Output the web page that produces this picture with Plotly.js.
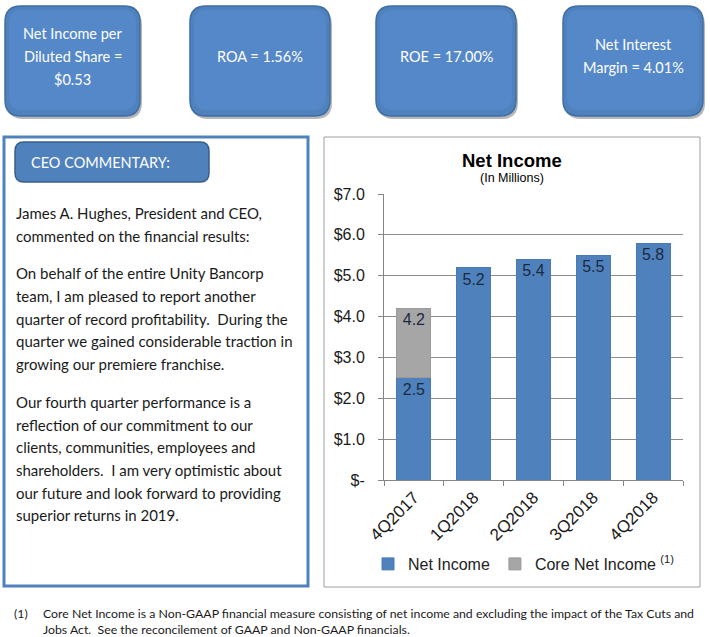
<!DOCTYPE html>
<html>
<head>
<meta charset="utf-8">
<script src="https://cdn.plot.ly/plotly-3.0.1.min.js"></script>
<style>
html,body{margin:0;padding:0;background:#fff;}
#chart{width:710px;height:637px;}
</style>
</head>
<body>
<div id="chart"></div>
<script>
// ---- Data ----
var categories = ['4Q2017', '1Q2018', '2Q2018', '3Q2018', '4Q2018'];
var netIncome = [2.5, 5.2, 5.4, 5.5, 5.8];
var coreNetIncome = [4.2, null, null, null, null];
var yTickVals = [0, 1, 2, 3, 4, 5, 6, 7];
var yTickText = ['$-', '$1.0', '$2.0', '$3.0', '$4.0', '$5.0', '$6.0', '$7.0'];

var kpiBoxes = [
  ['Net Income per', 'Diluted Share =', '$0.53'],
  ['ROA = 1.56%'],
  ['ROE = 17.00%'],
  ['Net Interest', 'Margin = 4.01%']
];
var commentaryLines = [
  'James A. Hughes, President and CEO,',
  'commented on the financial results:',
  '',
  'On behalf of the entire Unity Bancorp',
  'team, I am pleased to report another',
  'quarter of record profitability.  During the',
  'quarter we gained considerable traction in',
  'growing our premiere franchise.',
  '',
  'Our fourth quarter performance is a',
  'reflection of our commitment to our',
  'clients, communities, employees and',
  'shareholders.  I am very optimistic about',
  'our future and look forward to providing',
  'superior returns in 2019.'
];
var footnoteLines = [
  'Core Net Income is a Non-GAAP financial measure consisting of net income and excluding the impact of the Tax Cuts and',
  'Jobs Act.  See the reconcilement of GAAP and Non-GAAP financials.'
];

// ---- helpers (pixel -> paper) ----
var W = 710, H = 637;
function fx(x){ return x / W; }
function fy(y){ return 1 - y / H; }
function rr(x0, y0, x1, y1, r){
  return 'M' + fx(x0 + r) + ',' + fy(y0) +
    ' L' + fx(x1 - r) + ',' + fy(y0) +
    ' Q' + fx(x1) + ',' + fy(y0) + ' ' + fx(x1) + ',' + fy(y0 + r) +
    ' L' + fx(x1) + ',' + fy(y1 - r) +
    ' Q' + fx(x1) + ',' + fy(y1) + ' ' + fx(x1 - r) + ',' + fy(y1) +
    ' L' + fx(x0 + r) + ',' + fy(y1) +
    ' Q' + fx(x0) + ',' + fy(y1) + ' ' + fx(x0) + ',' + fy(y1 - r) +
    ' L' + fx(x0) + ',' + fy(y0 + r) +
    ' Q' + fx(x0) + ',' + fy(y0) + ' ' + fx(x0 + r) + ',' + fy(y0) + ' Z';
}

var calibriLike = 'Lato, "Open Sans", sans-serif';
var arialLike = '"Liberation Sans", Arial, sans-serif';

var shapes = [];
var annotations = [];

// KPI boxes
var boxX = [[5, 140], [190, 330], [376, 516], [563, 703]];
kpiBoxes.forEach(function(lines, i){
  var x0 = boxX[i][0], x1 = boxX[i][1], y0 = 6, y1 = 116;
  shapes.push({type: 'path', xref: 'paper', yref: 'paper', layer: 'above',
    path: rr(x0 + 2, y0 + 3, x1 + 2, y1 + 3, 16), fillcolor: 'rgba(0,0,0,0.28)', line: {width: 0}});
  shapes.push({type: 'path', xref: 'paper', yref: 'paper', layer: 'above',
    path: rr(x0, y0, x1, y1, 16), fillcolor: '#4F81BD', line: {color: '#3F6EA5', width: 1.5}});
  shapes.push({type: 'path', xref: 'paper', yref: 'paper', layer: 'above',
    path: rr(x0 + 4, y0 + 4, x1 - 4, y1 - 6, 13), fillcolor: '#5588C8', line: {width: 0}});
  var cx = (x0 + x1) / 2, cy = 56;
  var n = lines.length, sp = 23;
  lines.forEach(function(t, j){
    annotations.push({xref: 'paper', yref: 'paper', x: fx(cx), y: fy(cy + (j - (n - 1) / 2) * sp),
      text: t, showarrow: false, xanchor: 'center', yanchor: 'middle',
      font: {family: calibriLike, size: 14.5, color: '#ffffff'}});
  });
});

// Commentary box
shapes.push({type: 'rect', xref: 'paper', yref: 'paper', layer: 'above',
  x0: fx(4), x1: fx(308), y0: fy(137), y1: fy(586), line: {color: '#4F81BD', width: 3}, fillcolor: 'rgba(0,0,0,0)'});
shapes.push({type: 'path', xref: 'paper', yref: 'paper', layer: 'above',
  path: rr(15, 142, 209, 182, 9), fillcolor: '#4F81BD', line: {color: '#385D8A', width: 1.5}});
annotations.push({xref: 'paper', yref: 'paper', x: fx(29), y: fy(162), text: 'CEO COMMENTARY:',
  showarrow: false, xanchor: 'left', yanchor: 'middle', font: {family: calibriLike, size: 14.5, color: '#ffffff'}});
var lineY = 213;
commentaryLines.forEach(function(t){
  if (t === '') { lineY += 15; return; }
  annotations.push({xref: 'paper', yref: 'paper', x: fx(14), y: fy(lineY), text: t,
    showarrow: false, xanchor: 'left', yanchor: 'middle',
    font: {family: calibriLike, size: 15, color: '#1a1a1a'}});
  lineY += 22.7;
});

// Chart box
shapes.push({type: 'rect', xref: 'paper', yref: 'paper', layer: 'below',
  x0: fx(324), x1: fx(700), y0: fy(137), y1: fy(587), line: {color: '#A0A0A0', width: 1}, fillcolor: '#ffffff'});
annotations.push({xref: 'paper', yref: 'paper', x: fx(512), y: fy(160), text: '<b>Net Income</b>',
  showarrow: false, xanchor: 'center', yanchor: 'middle', font: {family: arialLike, size: 18.5, color: '#000000'}});
annotations.push({xref: 'paper', yref: 'paper', x: fx(512), y: fy(178), text: '(In Millions)',
  showarrow: false, xanchor: 'center', yanchor: 'middle', font: {family: arialLike, size: 12.5, color: '#000000'}});

// Footnote
annotations.push({xref: 'paper', yref: 'paper', x: fx(12), y: fy(613), text: '(1)',
  showarrow: false, xanchor: 'left', yanchor: 'middle', font: {family: calibriLike, size: 12.3, color: '#1a1a1a'}});
footnoteLines.forEach(function(t, j){
  annotations.push({xref: 'paper', yref: 'paper', x: fx(41), y: fy(613 + j * 16), text: t,
    showarrow: false, xanchor: 'left', yanchor: 'middle', font: {family: calibriLike, size: 12.3, color: '#1a1a1a'}});
});

// ---- traces ----
var coreX = [], coreSeg = [], coreText = [];
coreNetIncome.forEach(function(v, i){
  if (v != null) { coreX.push(categories[i]); coreSeg.push(v - netIncome[i]); coreText.push(v.toFixed(1)); }
});
var traces = [
  {type: 'bar', x: categories, y: netIncome, name: 'Net Income',
   marker: {color: '#4F81BD', line: {color: '#4A7AB5', width: 1}},
   text: netIncome.map(function(v){ return v.toFixed(1); }),
   textposition: 'inside', insidetextanchor: 'end', textangle: 0,
   textfont: {family: arialLike, size: 16, color: '#1B2A3F'}, hoverinfo: 'skip'},
  {type: 'bar', x: coreX, y: coreSeg, name: 'Core Net Income <sup>(1)</sup>',
   marker: {color: '#A6A6A6', line: {color: '#9A9A9A', width: 1}},
   text: coreText,
   textposition: 'inside', insidetextanchor: 'end', textangle: 0,
   textfont: {family: arialLike, size: 16, color: '#1B2A3F'}, hoverinfo: 'skip'}
];

var layout = {
  width: W, height: H,
  margin: {l: 0, r: 0, t: 0, b: 0},
  paper_bgcolor: '#ffffff', plot_bgcolor: 'rgba(0,0,0,0)',
  barmode: 'stack', bargap: 0.43,
  showlegend: true,
  legend: {orientation: 'h', x: fx(368), y: fy(564), xanchor: 'left', yanchor: 'middle',
    font: {family: arialLike, size: 16, color: '#222222'}, bgcolor: 'rgba(0,0,0,0)', traceorder: 'normal',
    itemwidth: 30},
  xaxis: {domain: [fx(384), fx(683)], type: 'category', range: [-0.5, 4.5],
    showline: true, linecolor: '#868686', linewidth: 1, ticks: 'outside', tickson: 'boundaries',
    ticklen: 5, tickcolor: '#868686', tickangle: -45, showgrid: false,
    tickfont: {family: arialLike, size: 17, color: '#1a1a1a'}},
  yaxis: {domain: [fy(480), fy(194)], range: [0, 7], tickvals: yTickVals, ticktext: yTickText,
    showline: true, linecolor: '#868686', linewidth: 1, ticks: 'outside', ticklen: 5, tickcolor: '#868686',
    showgrid: true, gridcolor: '#8C8C8C', gridwidth: 1, zeroline: false, ticklabelstandoff: 10,
    tickfont: {family: arialLike, size: 16, color: '#1a1a1a'}},
  shapes: shapes,
  annotations: annotations
};

Plotly.newPlot('chart', traces, layout, {displayModeBar: false, staticPlot: true});
</script>
</body>
</html>
